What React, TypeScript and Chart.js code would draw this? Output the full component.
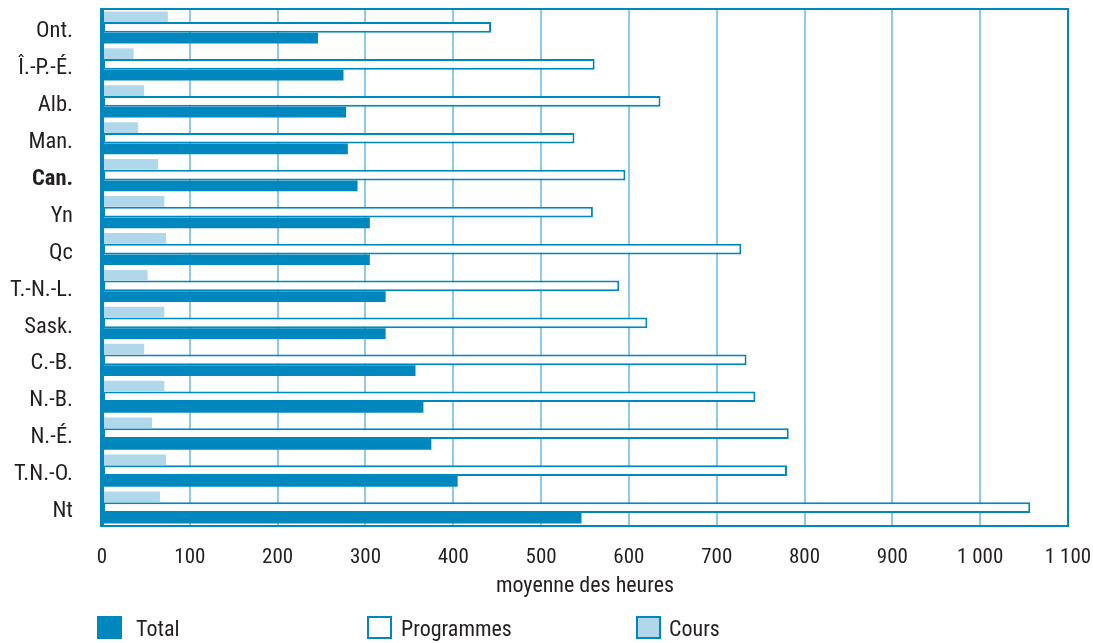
import React, { useEffect, useRef } from 'react';
import { Chart, registerables } from 'chart.js';

Chart.register(...registerables);

const categories = ['Ont.', 'Î.-P.-É.', 'Alb.', 'Man.', 'Can.', 'Yn', 'Qc', 'T.-N.-L.', 'Sask.', 'C.-B.', 'N.-B.', 'N.-É.', 'T.N.-O.', 'Nt'];
const totalHours = [246, 275, 278, 280, 291, 305, 305, 323, 323, 357, 366, 375, 405, 546];
const programmesHours = [443, 561, 636, 538, 596, 559, 728, 589, 621, 734, 744, 782, 780, 1057];
const coursHours = [75, 36, 48, 41, 64, 71, 73, 52, 71, 48, 71, 57, 73, 66];
const seriesNames = ['Total', 'Programmes', 'Cours'];
const axisTitle = 'moyenne des heures';
const xMin = 0;
const xMax = 1100;
const xStep = 100;

const DARK = '#0088be';
const LIGHT = '#b0d8ea';
const GRID = '#8ecae6';
const TEXT = '#231f20';
const FONT = "'Roboto Condensed', 'Liberation Sans Narrow', 'DejaVu Sans Condensed', sans-serif";

const formatTick = (v: number) => String(v).replace(/\B(?=(\d{3})+(?!\d))/g, ' ');

const zeroPadding = (s: any) => {
  s.paddingTop = 0;
  s.paddingBottom = 0;
  s.paddingLeft = 0;
  s.paddingRight = 0;
};

const framePlugin = {
  id: 'frame',
  afterDatasetsDraw(chart: any) {
    const { ctx, chartArea: a } = chart;
    ctx.save();
    ctx.strokeStyle = DARK;
    ctx.lineWidth = 2;
    ctx.beginPath();
    ctx.moveTo(a.left, a.top);
    ctx.lineTo(a.right, a.top);
    ctx.lineTo(a.right, a.bottom);
    ctx.lineTo(a.left, a.bottom);
    ctx.stroke();
    ctx.lineWidth = 4;
    ctx.beginPath();
    ctx.moveTo(a.left, a.top - 1);
    ctx.lineTo(a.left, a.bottom + 1);
    ctx.stroke();
    ctx.restore();
  },
};

export default function App() {
  const ref = useRef<HTMLCanvasElement | null>(null);

  useEffect(() => {
    if (!ref.current) return;
    const chart = new Chart(ref.current, {
      type: 'bar',
      data: {
        labels: categories,
        datasets: [
          {
            label: seriesNames[2],
            data: coursHours,
            backgroundColor: LIGHT,
            borderWidth: 0,
            categoryPercentage: 0.87,
            barPercentage: 1,
          },
          {
            label: seriesNames[1],
            data: programmesHours,
            backgroundColor: '#ffffff',
            borderColor: DARK,
            borderWidth: 2,
            borderSkipped: false,
            categoryPercentage: 0.87,
            barPercentage: 1,
          },
          {
            label: seriesNames[0],
            data: totalHours,
            backgroundColor: DARK,
            borderWidth: 0,
            categoryPercentage: 0.87,
            barPercentage: 1,
          },
        ],
      },
      options: {
        indexAxis: 'y',
        animation: false,
        responsive: false,
        maintainAspectRatio: false,
        layout: { padding: { top: 9, right: 25, bottom: 43, left: 0 } },
        plugins: {
          legend: { display: false },
          tooltip: { enabled: false },
        },
        scales: {
          x: {
            type: 'linear',
            min: xMin,
            max: xMax,
            ticks: {
              stepSize: xStep,
              autoSkip: false,
              maxRotation: 0,
              padding: 19,
              color: TEXT,
              font: { family: FONT, size: 21 },
              callback: (v: any) => formatTick(Number(v)),
            },
            grid: { color: GRID, lineWidth: 2, drawTicks: false },
            border: { display: false },
            title: {
              display: true,
              text: axisTitle,
              color: TEXT,
              font: { family: FONT, size: 22 },
              padding: { top: 0, bottom: 0 },
            },
            afterFit: (s: any) => {
              s.height = 74;
              zeroPadding(s);
            },
          },
          y: {
            type: 'category',
            ticks: {
              padding: 29,
              labelOffset: 4,
              autoSkip: false,
              color: TEXT,
              font: (c: any) => ({
                family: FONT,
                size: 22.5,
                weight: c.tick && c.tick.label === 'Can.' ? 'bold' : 'normal',
              }),
            },
            grid: { display: false, drawTicks: false },
            border: { display: false },
            afterFit: (s: any) => {
              s.width = 102;
              zeroPadding(s);
            },
          },
        },
      } as any,
      plugins: [framePlugin],
    });
    return () => chart.destroy();
  }, []);

  const legendItems = [
    { name: seriesNames[0], left: 97, fill: DARK, border: DARK, textLeft: 136 },
    { name: seriesNames[1], left: 367, fill: '#ffffff', border: DARK, textLeft: 401 },
    { name: seriesNames[2], left: 636, fill: LIGHT, border: DARK, textLeft: 669 },
  ];

  return (
    <div style={{ position: 'fixed', left: 0, top: 0, width: 1093, height: 643, background: '#fff' }}>
      <canvas ref={ref} width={1093} height={643} style={{ width: 1093, height: 643, display: 'block' }} />
      {legendItems.map((it) => (
        <React.Fragment key={it.name}>
          <div
            style={{
              position: 'absolute',
              left: it.left,
              top: 616,
              width: 25,
              height: 23,
              boxSizing: 'border-box',
              background: it.fill,
              border: `2.5px solid ${it.border}`,
            }}
          />
          <div
            style={{
              position: 'absolute',
              left: it.textLeft,
              top: 615,
              height: 28,
              lineHeight: '28px',
              fontFamily: FONT,
              fontSize: 22,
              color: TEXT,
              whiteSpace: 'nowrap',
            }}
          >
            {it.name}
          </div>
        </React.Fragment>
      ))}
    </div>
  );
}
